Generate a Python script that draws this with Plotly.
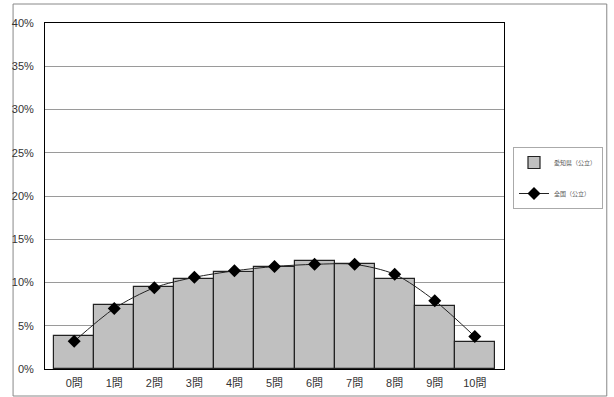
import plotly.graph_objects as go

categories = ["0問", "1問", "2問", "3問", "4問", "5問", "6問", "7問", "8問", "9問", "10問"]
aichi = [3.85, 7.45, 9.5, 10.4, 11.2, 11.85, 12.5, 12.1, 10.4, 7.3, 3.1]
national = [3.2, 7.0, 9.4, 10.6, 11.35, 11.85, 12.1, 12.1, 10.95, 7.9, 3.75]
y_ticks = [0, 5, 10, 15, 20, 25, 30, 35, 40]
y_tick_labels = [f"{v}%" for v in y_ticks]

FONT = "Liberation Sans, Noto Sans CJK JP, sans-serif"

fig = go.Figure()
fig.add_trace(go.Bar(
    x=categories, y=aichi, name="愛知県（公立）", legendgroup="a",
    marker=dict(color="#c0c0c0", line=dict(color="#222222", width=1.2)),
))
fig.add_trace(go.Scatter(
    x=categories, y=national, name="全国（公立）", legendgroup="b",
    mode="lines+markers",
    line=dict(color="#222222", width=1, shape="spline", smoothing=0.8),
    marker=dict(symbol="diamond", size=10, color="#000000"),
))

L, T, W, H = 45, 23, 460, 346
fig.update_layout(
    width=614, height=397,
    margin=dict(l=L, r=614 - L - W, t=T, b=397 - T - H),
    paper_bgcolor="white", plot_bgcolor="white",
    bargap=0,
    font=dict(family=FONT, color="#333333", size=11),
    showlegend=True,
    legend=dict(
        x=(513 - L) / W, y=(H - (147 - T)) / H, xanchor="left", yanchor="top",
        bordercolor="#aaaaaa", borderwidth=1,
        font=dict(size=6, family="Noto Sans CJK JP", color="#555555"),
        tracegroupgap=12, traceorder="grouped",
        itemwidth=30,
    ),
    xaxis=dict(
        showline=True, linecolor="#000000", linewidth=1, mirror=True,
        showgrid=False, ticks="", ticklabelstandoff=4, automargin=False,
        tickfont=dict(size=11, family="Liberation Sans, Noto Sans CJK JP"),
    ),
    yaxis=dict(
        range=[0, 40], tickvals=y_ticks, ticktext=y_tick_labels,
        showline=True, linecolor="#000000", linewidth=1, mirror=True,
        showgrid=True, gridcolor="#9a9a9a", gridwidth=1, automargin=False,
        ticks="", ticklabelstandoff=8, zeroline=False,
    ),
    shapes=[dict(
        type="rect", xref="paper", yref="paper",
        x0=(13 - L) / W, x1=(608 - L) / W,
        y0=(H + T - 396) / H, y1=(H + T - 4) / H,
        line=dict(color="#888888", width=1), layer="below",
    )],
)

fig.write_html("out.html")
